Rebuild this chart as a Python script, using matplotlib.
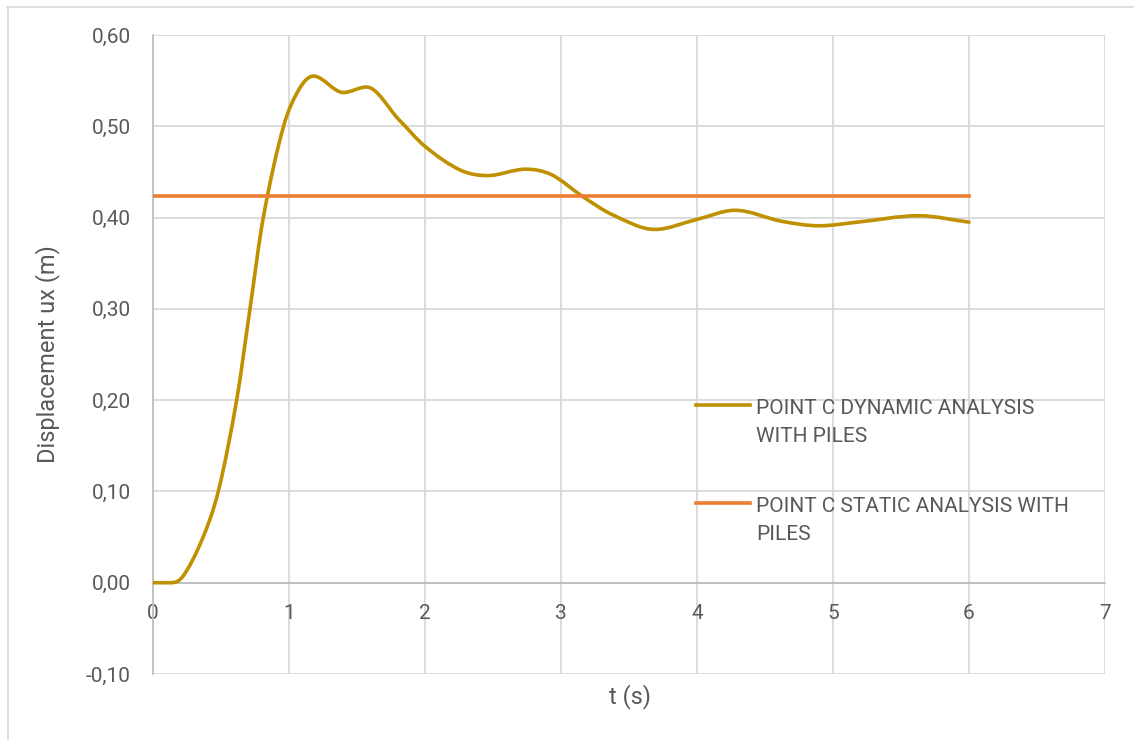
import numpy as np
import matplotlib
matplotlib.use("Agg")
import matplotlib.pyplot as plt
from matplotlib.path import Path
from matplotlib.patches import PathPatch
from matplotlib.lines import Line2D
from matplotlib.legend_handler import HandlerLine2D

# Time history of horizontal displacement at point C
t_dyn = [0.0, 0.13, 0.22, 0.36, 0.48, 0.615, 0.713, 0.811, 0.96, 1.08,
         1.18, 1.40, 1.57, 1.81, 2.00, 2.26, 2.46, 2.74, 2.93, 3.16, 3.38,
         3.69, 4.00, 4.28, 4.62, 4.90, 5.18, 5.63, 6.00]
ux_dyn = [0.000, 0.000, 0.007, 0.047, 0.100, 0.200, 0.300, 0.400, 0.500,
          0.542, 0.555, 0.537, 0.543, 0.507, 0.478, 0.452, 0.446, 0.453,
          0.447, 0.423, 0.403, 0.387, 0.398, 0.408, 0.396, 0.391, 0.395,
          0.402, 0.395]

# Static solution (constant displacement)
t_stat = [0.0, 6.0]
ux_stat = [0.424, 0.424]

x_ticks = [0, 1, 2, 3, 4, 5, 6, 7]
y_ticks = [-0.10, 0.00, 0.10, 0.20, 0.30, 0.40, 0.50, 0.60]

label_dyn = "POINT C DYNAMIC ANALYSIS\nWITH PILES"
label_stat = "POINT C STATIC ANALYSIS WITH\nPILES"

C_DYN = "#BF9000"
C_STAT = "#ED7D31"
C_TEXT = "#595959"
C_GRID = "#D9D9D9"
C_AXIS = "#BFBFBF"
FONT = ["Roboto", "DejaVu Sans"]


def smooth_path(x, y):
    """Cubic Bezier path through the points; tangents are flattened at
    local extrema so the curve does not overshoot the samples."""
    x = np.asarray(x, float)
    y = np.asarray(y, float)
    n = len(x)
    d = np.diff(y) / np.diff(x)
    m = np.empty(n)
    m[0], m[-1] = d[0], d[-1]
    for i in range(1, n - 1):
        if d[i - 1] * d[i] <= 0:
            m[i] = 0.0
        else:
            m[i] = (y[i + 1] - y[i - 1]) / (x[i + 1] - x[i - 1])
    verts = [(x[0], y[0])]
    codes = [Path.MOVETO]
    for i in range(n - 1):
        h = (x[i + 1] - x[i]) / 3.0
        verts += [(x[i] + h, y[i] + m[i] * h),
                  (x[i + 1] - h, y[i + 1] - m[i + 1] * h),
                  (x[i + 1], y[i + 1])]
        codes += [Path.CURVE4] * 3
    return Path(verts, codes)


class TopAlignedLine(HandlerLine2D):
    """Legend handle aligned with the first line of a wrapped label."""
    def __init__(self, shift, **kw):
        super().__init__(**kw)
        self.shift = shift

    def create_artists(self, legend, orig_handle, xdescent, ydescent,
                       width, height, fontsize, trans):
        arts = super().create_artists(legend, orig_handle, xdescent, ydescent,
                                      width, height, fontsize, trans)
        for a in arts:
            a.set_ydata(np.asarray(a.get_ydata()) + self.shift)
        return arts


plt.rcParams["font.family"] = FONT

fig = plt.figure(figsize=(11.34, 7.40), dpi=100)
ax = fig.add_axes([153 / 1134, 1 - 674 / 740, 952 / 1134, 639 / 740])

ax.set_xlim(0, 7)
ax.set_ylim(-0.10, 0.60)
ax.set_xticks(x_ticks)
ax.set_yticks(y_ticks)
ax.set_xticklabels([str(v) for v in x_ticks])
ax.set_yticklabels([f"{v:.2f}".replace(".", ",") for v in y_ticks])

ax.grid(True, color=C_GRID, linewidth=1.3)
ax.set_axisbelow(True)
for s in ("top", "right"):
    ax.spines[s].set_visible(False)
ax.spines["left"].set_color(C_AXIS)
ax.spines["left"].set_linewidth(1.3)
ax.spines["bottom"].set_position(("data", 0.0))
ax.spines["bottom"].set_color(C_AXIS)
ax.spines["bottom"].set_linewidth(1.3)
ax.tick_params(axis="both", length=0, colors=C_TEXT, labelsize=15)
ax.tick_params(axis="y", pad=16)
ax.tick_params(axis="x", pad=15)

ax.set_xlabel("t (s)", fontsize=17, color=C_TEXT)
ax.xaxis.set_label_coords(0.501, -0.015)
ax.set_ylabel("Displacement ux (m)", fontsize=17, color=C_TEXT)
ax.yaxis.set_label_coords(-0.098, 0.5)

# Dynamic response as a smoothed curve
patch = PathPatch(smooth_path(t_dyn, ux_dyn), facecolor="none", edgecolor=C_DYN,
                  linewidth=2.6, capstyle="round", joinstyle="round", zorder=3)
ax.add_patch(patch)
# Static reference
ax.plot(t_stat, ux_stat, color=C_STAT, linewidth=2.6, zorder=3)

h_dyn = Line2D([], [], color=C_DYN, linewidth=2.6)
h_stat = Line2D([], [], color=C_STAT, linewidth=2.6)
leg = ax.legend([h_dyn, h_stat], [label_dyn, label_stat],
                loc="upper left", bbox_to_anchor=(696 / 1134, 1 - 399 / 740),
                bbox_transform=fig.transFigure, frameon=False,
                fontsize=15, labelcolor=C_TEXT, handlelength=2.6,
                handletextpad=0.3, labelspacing=2.45, borderpad=0, borderaxespad=0,
                handler_map={Line2D: TopAlignedLine(shift=12.5)})
for txt in leg.get_texts():
    txt.set_linespacing(1.6)

# Thin chart-area border along top and left edges
fig.add_artist(Line2D([7 / 1134, 1.0], [1 - 6.5 / 740, 1 - 6.5 / 740],
                      transform=fig.transFigure, color=C_GRID, linewidth=1.2))
fig.add_artist(Line2D([7.5 / 1134, 7.5 / 1134], [0.0, 1 - 6.5 / 740],
                      transform=fig.transFigure, color=C_GRID, linewidth=1.2))

fig.savefig("out.png", dpi=100, facecolor="white")
